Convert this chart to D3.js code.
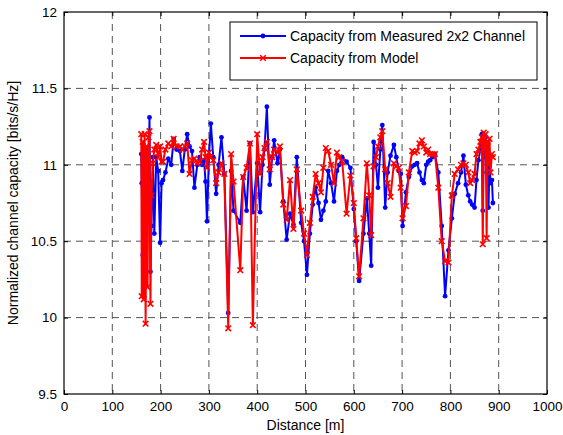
<!DOCTYPE html>
<html>
<head>
<meta charset="utf-8">
<script src="https://cdn.jsdelivr.net/npm/d3@7"></script>
<style>
  body { margin: 0; background: #fff; }
  svg { font-family: "Liberation Sans", Arial, sans-serif; }
</style>
</head>
<body>
<svg id="chart"></svg>
<script>
var screen = {width:563, height:435};
var margins = {top:12, right:16, bottom:41, left:64};

// distances [m]
var distances = [160, 161, 163, 165, 167, 169, 171, 173, 175, 177, 179, 181, 184, 187, 191, 195, 199, 202,
    205, 210, 216, 222, 227, 233, 240, 245, 250, 255, 260, 265, 270, 276, 281,
    286, 290, 293, 296, 300, 304, 309, 315, 320, 326, 332, 340, 346, 351, 365, 371, 378, 385, 391, 400,
    406, 411, 415, 420, 426, 431, 435, 442, 447, 454, 461, 468, 475, 482, 491, 497, 503, 509, 515,
    521, 527, 532, 537, 542, 547, 553, 559, 565, 570, 576, 585, 593, 600, 605, 611, 620, 627, 632, 636, 641,
    646, 650, 655, 659, 665, 670, 676, 683, 688, 693, 697, 701, 708, 714, 721, 726, 731, 736, 741, 745, 750, 754, 758,
    763, 768, 775, 782, 789, 796, 803, 809, 816, 822, 827, 832, 837, 841, 845, 850, 854, 858, 862, 865, 867, 869, 871, 873, 875, 877, 879, 881, 883, 886, 888];

var measured = [11.07, 10.88, 10.41, 11.00, 11.10, 10.95, 11.05, 11.00, 10.90, 11.31, 10.30, 10.60, 11.05, 10.55, 11.05, 10.96, 10.49, 10.88,
    10.90, 10.95, 11.04, 11.00, 11.17, 11.10, 11.09, 10.96, 11.10, 11.20, 11.12, 11.09, 10.85, 11.00, 11.05,
    11.00, 11.03, 10.89, 10.63, 11.05, 11.27, 11.05, 10.81, 11.00, 11.18, 10.94, 10.03, 10.96, 10.70, 10.62, 10.92, 10.70, 11.14, 10.69, 11.01,
    10.69, 11.00, 11.10, 11.38, 10.87, 11.05, 11.16, 11.01, 11.10, 10.76, 10.51, 10.68, 10.61, 11.05, 10.62, 10.50, 10.28, 10.55, 10.74,
    10.85, 10.75, 10.64, 10.70, 10.76, 10.96, 10.88, 10.76, 10.96, 11.00, 11.05, 11.02, 10.98, 10.71, 10.50, 10.24, 10.55, 10.78, 10.55, 10.34, 11.15,
    11.00, 10.85, 11.10, 11.26, 10.72, 10.95, 11.06, 11.13, 11.05, 10.96, 10.94, 10.60, 10.82, 10.92, 10.99, 11.00, 11.01, 10.95, 10.90, 10.88, 11.00, 11.02, 11.03,
    11.05, 11.07, 10.95, 10.60, 10.14, 10.44, 10.65, 10.81, 10.88, 10.95, 11.06, 10.87, 10.80, 10.76, 10.74, 10.72, 10.90, 11.03, 11.10, 11.20, 10.70, 11.15, 11.05, 11.18, 10.95, 11.10, 10.72, 11.05, 10.88, 10.90, 10.75];

var model = [11.20, 10.14, 11.15, 10.12, 11.20, 9.96, 11.12, 10.20, 11.18, 11.22, 10.09, 10.80, 11.01, 11.10, 11.13, 11.05, 11.12, 11.02,
    11.02, 11.10, 11.14, 11.12, 11.17, 11.12, 11.12, 11.10, 11.12, 11.14, 10.94, 11.03, 11.04, 11.01, 11.02,
    11.10, 11.15, 11.05, 10.98, 11.08, 11.05, 11.03, 10.88, 10.95, 11.01, 10.94, 9.93, 11.07, 10.89, 10.31, 10.92, 10.98, 11.14, 9.95, 11.20,
    10.94, 11.05, 11.11, 11.15, 10.97, 11.05, 11.10, 11.08, 11.12, 10.74, 10.64, 10.90, 10.58, 10.97, 10.70, 10.55, 10.41, 10.62, 10.79,
    10.94, 10.88, 10.82, 10.98, 11.11, 11.09, 11.00, 10.88, 11.08, 11.05, 11.02, 10.68, 10.93, 10.75, 10.52, 10.27, 10.65, 11.01, 10.80, 10.54, 10.99,
    11.05, 11.12, 11.18, 11.22, 10.97, 10.88, 10.79, 11.01, 10.99, 10.98, 10.85, 10.65, 10.73, 10.95, 11.09, 11.08, 11.09, 11.14, 11.16, 11.12, 11.08, 11.10, 11.07,
    11.07, 11.07, 10.85, 10.50, 10.37, 10.36, 10.80, 10.94, 10.97, 11.00, 11.01, 11.00, 10.95, 10.88, 10.90, 10.94, 11.07, 11.10, 11.15, 11.18, 10.48, 11.21, 11.10, 11.20, 10.52, 11.15, 11.00, 11.17, 10.95, 11.07, 11.05];

var xTicks = [0, 100, 200, 300, 400, 500, 600, 700, 800, 900, 1000];
var yTicks = [9.5, 10, 10.5, 11, 11.5, 12];
var seriesNames = ["Capacity from Measured 2x2 Channel", "Capacity from Model"];
var seriesColors = ["#0000ff", "#ff0000"];

var width = screen.width - margins.left - margins.right;
var height = screen.height - margins.top - margins.bottom;

var svg = d3.select("#chart")
    .attr("width", screen.width)
    .attr("height", screen.height);

var g = svg.append("g")
    .attr("transform", "translate(" + margins.left + "," + margins.top + ")");

var xscale = d3.scaleLinear().domain([0, 1000]).range([0, width]);
var yscale = d3.scaleLinear().domain([9.5, 12]).range([height, 0]);

// grid
g.append("g").selectAll("line").data(xTicks.slice(1, -1)).enter().append("line")
    .attr("x1", function(d){ return xscale(d); })
    .attr("x2", function(d){ return xscale(d); })
    .attr("y1", 0).attr("y2", height)
    .attr("stroke", "#555").attr("stroke-width", 1).attr("stroke-dasharray", "7,5");
g.append("g").selectAll("line").data(yTicks.slice(1, -1)).enter().append("line")
    .attr("y1", function(d){ return yscale(d); })
    .attr("y2", function(d){ return yscale(d); })
    .attr("x1", 0).attr("x2", width)
    .attr("stroke", "#555").attr("stroke-width", 1).attr("stroke-dasharray", "7,5");

// axes
var xAxis = d3.axisBottom(xscale).tickValues(xTicks).tickSize(-4).tickPadding(7).tickFormat(d3.format("d"));
var yAxis = d3.axisLeft(yscale).tickValues(yTicks).tickSize(-4).tickPadding(7).tickFormat(function(d){ return String(d); });
var xTop = d3.axisTop(xscale).tickValues(xTicks).tickSize(-4).tickFormat("");
var yRight = d3.axisRight(yscale).tickValues(yTicks).tickSize(-4).tickFormat("");

function styleAxis(sel) {
    sel.select(".domain").remove();
    sel.selectAll("line").attr("stroke", "#000");
    sel.selectAll("text").attr("fill", "#000").style("font-size", "13.5px");
}
g.append("g").attr("transform", "translate(0," + height + ")").call(xAxis).call(styleAxis);
g.append("g").call(yAxis).call(styleAxis);
g.append("g").call(xTop).call(styleAxis);
g.append("g").attr("transform", "translate(" + width + ",0)").call(yRight).call(styleAxis);

g.append("rect")
    .attr("x", 0).attr("y", 0).attr("width", width).attr("height", height)
    .attr("fill", "none").attr("stroke", "#000").attr("stroke-width", 1.2);

// lines
var line = d3.line()
    .x(function(d){ return xscale(d[0]); })
    .y(function(d){ return yscale(d[1]); });

var blueData = distances.map(function(d, i){ return [d, measured[i]]; });
var redData = distances.map(function(d, i){ return [d, model[i]]; });

g.append("path").datum(blueData).attr("d", line)
    .attr("fill", "none").attr("stroke", seriesColors[0]).attr("stroke-width", 2).attr("stroke-linejoin", "round");
g.append("g").selectAll("circle").data(blueData).enter().append("circle")
    .attr("cx", function(d){ return xscale(d[0]); })
    .attr("cy", function(d){ return yscale(d[1]); })
    .attr("r", 2.4).attr("fill", seriesColors[0]);

g.append("path").datum(redData).attr("d", line)
    .attr("fill", "none").attr("stroke", seriesColors[1]).attr("stroke-width", 2).attr("stroke-linejoin", "round");

var xMark = function(sel, s) {
    sel.attr("d", "M" + (-s) + "," + (-s) + "L" + s + "," + s + "M" + (-s) + "," + s + "L" + s + "," + (-s))
        .attr("stroke", seriesColors[1]).attr("stroke-width", 1.6).attr("fill", "none");
};
g.append("g").selectAll("path").data(redData).enter().append("path")
    .attr("transform", function(d){ return "translate(" + xscale(d[0]) + "," + yscale(d[1]) + ")"; })
    .call(xMark, 2.8);

// legend
var legend = svg.append("g").attr("transform", "translate(230,22)");
legend.append("rect").attr("width", 307).attr("height", 58)
    .attr("fill", "#fff").attr("stroke", "#000").attr("stroke-width", 1);
seriesNames.forEach(function(name, i){
    var y = 14 + i * 22;
    legend.append("line").attr("x1", 10).attr("x2", 56).attr("y1", y).attr("y2", y)
        .attr("stroke", seriesColors[i]).attr("stroke-width", 2);
    if (i === 0) {
        legend.append("circle").attr("cx", 33).attr("cy", y).attr("r", 2.4).attr("fill", seriesColors[0]);
    } else {
        legend.append("path").attr("transform", "translate(33," + y + ")").call(xMark, 2.8);
    }
    legend.append("text").attr("x", 60).attr("y", y + 5).text(name)
        .style("font-size", "14px").attr("fill", "#000");
});

// axis labels
svg.append("text")
    .attr("x", margins.left + width / 2).attr("y", 430)
    .attr("text-anchor", "middle").style("font-size", "14px").text("Distance [m]");
svg.append("text")
    .attr("transform", "translate(18," + (margins.top + height / 2) + ") rotate(-90)")
    .attr("text-anchor", "middle").style("font-size", "14px").text("Normalized channel capacity [bits/s/Hz]");
</script>
</body>
</html>
